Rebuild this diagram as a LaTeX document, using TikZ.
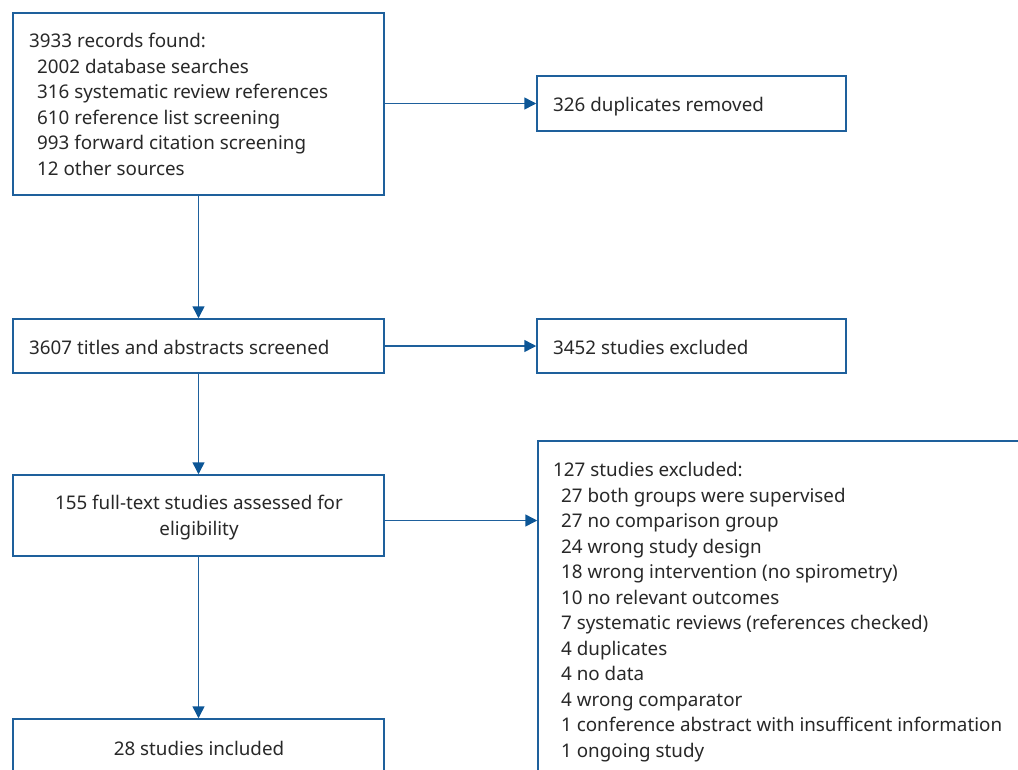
\documentclass[tikz,border=0pt]{standalone}
\usepackage{fontspec}
\setmainfont{Noto Sans}
\usetikzlibrary{arrows.meta}
\definecolor{lineblue}{RGB}{30,96,156}
\definecolor{tipblue}{RGB}{12,86,150}
\definecolor{txt}{RGB}{40,40,40}
\begin{document}
\begin{tikzpicture}[x=1pt,y=-1pt,
  box/.style={draw=lineblue,line width=1.5pt,inner sep=0pt,fill=white},
  lbl/.style={anchor=base west,inner sep=0pt,text=txt,font=\fontsize{18.8}{25.5}\selectfont},
  clbl/.style={anchor=base,inner sep=0pt,text=txt,font=\fontsize{18.8}{25.5}\selectfont},
  arr/.style={draw=lineblue,line width=1.5pt,-{Triangle[length=12pt,width=12pt,color=tipblue]}}]
\useasboundingbox (0,0) rectangle (1018,769);
\clip (0,0) rectangle (1018,769);
% boxes
\node[box,minimum width=371pt,minimum height=182pt] (b1) at (198.5,104) {};
\node[box,minimum width=309pt,minimum height=55pt] (b2) at (691.5,103.5) {};
\node[box,minimum width=371pt,minimum height=54pt] (b3) at (198.5,346) {};
\node[box,minimum width=309pt,minimum height=54pt] (b4) at (691.5,346) {};
\node[box,minimum width=371pt,minimum height=81pt] (b5) at (198.5,515.5) {};
\node[box,minimum width=500pt,minimum height=360pt] (b6) at (788,621) {};
\node[box,minimum width=371pt,minimum height=80pt] (b7) at (198.5,759) {};
% texts
\node[lbl] (t1a) at (29,47.5) {3933 records found:};
\node[lbl] (t1b) at (37,73) {2002 database searches};
\node[lbl] (t1c) at (37,98.5) {316 systematic review references};
\node[lbl] (t1d) at (37,124) {610 reference list screening};
\node[lbl] (t1e) at (37,149.5) {993 forward citation screening};
\node[lbl] (t1f) at (37,175) {12 other sources};
\node[lbl] (t2) at (553,111.5) {326 duplicates removed};
\node[lbl] (t3) at (29,354) {3607 titles and abstracts screened};
\node[lbl] (t4) at (553,354) {3452 studies excluded};
\node[clbl] (t5a) at (199,509.5) {155 full-text studies assessed for};
\node[clbl] (t5b) at (199,535) {eligibility};
\node[clbl] (t7) at (199,755) {28 studies included};
\node[lbl] (t6a) at (553,476.7) {127 studies excluded:};
\node[lbl] (t6b) at (561,502.2) {27 both groups were supervised};
\node[lbl] (t6c) at (561,527.7) {27 no comparison group};
\node[lbl] (t6d) at (561,553.2) {24 wrong study design};
\node[lbl] (t6e) at (561,578.7) {18 wrong intervention (no spirometry)};
\node[lbl] (t6f) at (561,604.2) {10 no relevant outcomes};
\node[lbl] (t6g) at (561,629.7) {7 systematic reviews (references checked)};
\node[lbl] (t6h) at (561,655.2) {4 duplicates};
\node[lbl] (t6i) at (561,680.7) {4 no data};
\node[lbl] (t6j) at (561,706.2) {4 wrong comparator};
\node[lbl] (t6k) at (561,731.7) {1 conference abstract with insufficent information};
\node[lbl] (t6l) at (561,757.2) {1 ongoing study};
% connectors
\draw[arr] (b1.south) -- (b3.north);
\draw[arr] (b3.south) -- (b5.north);
\draw[arr] (b5.south) -- (b5.south |- b7.north);
\draw[arr] (b1.east |- b2.west) -- (b2.west);
\draw[arr] (b3.east) -- (b4.west);
\draw[arr] ([yshift=-5pt]b5.east) -- ([yshift=-5pt]b5.east -| b6.west);
\end{tikzpicture}
\end{document}
